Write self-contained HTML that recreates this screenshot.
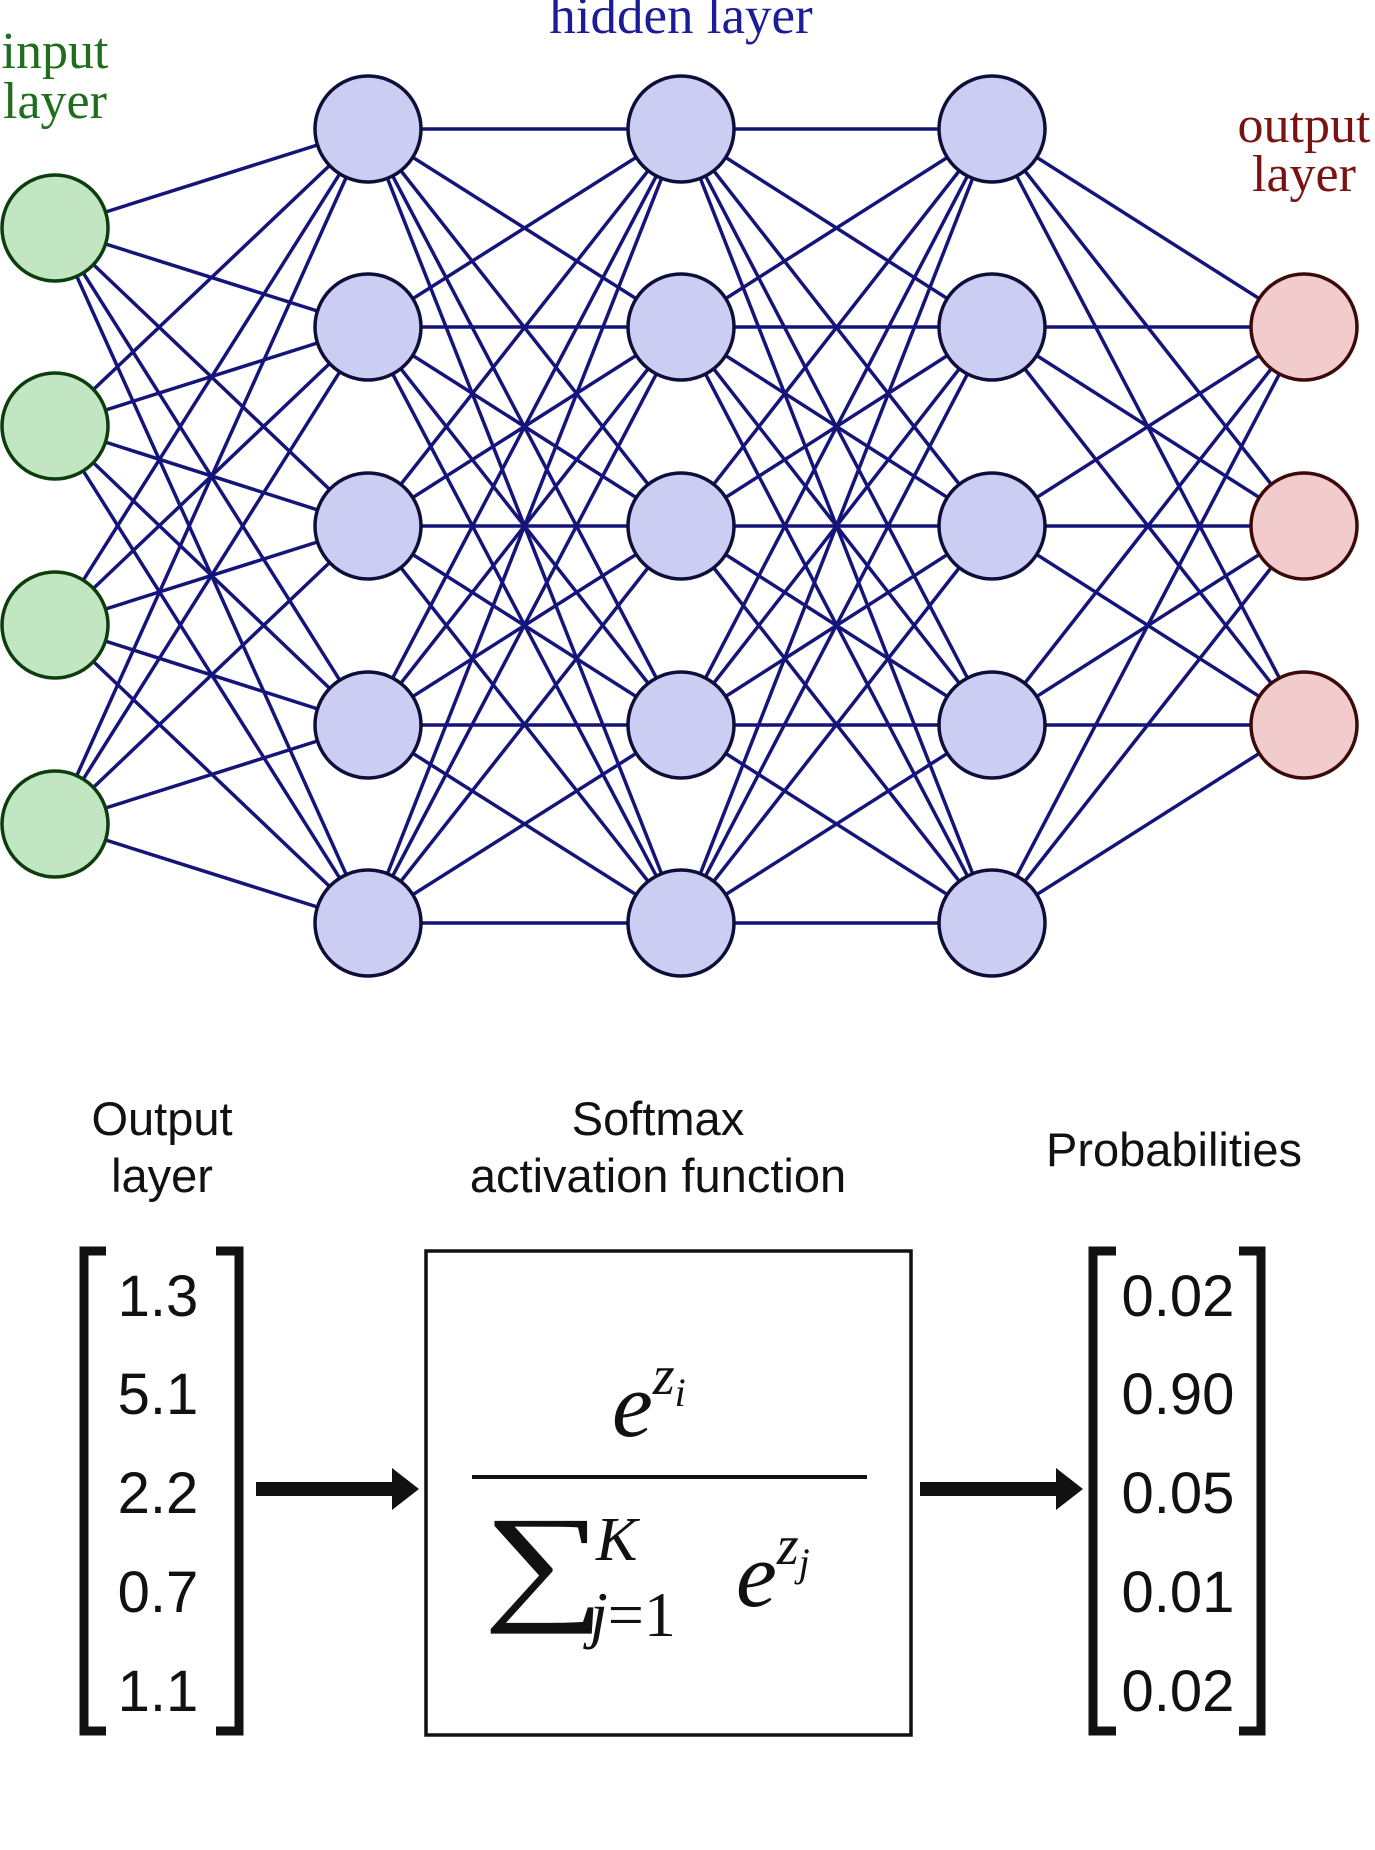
<!DOCTYPE html>
<html><head><meta charset="utf-8"><style>
html,body{margin:0;padding:0;background:#fff}
svg{display:block}
.ser{font-family:"Liberation Serif",serif}
.san{font-family:"Liberation Sans",sans-serif}
</style></head><body>
<svg width="1375" height="1850" viewBox="0 0 1375 1850">
<g id="edges"></g>
<g id="nodes"></g>
<text class="ser" x="681" y="33" font-size="53" fill="#1c1c96" text-anchor="middle">hidden layer</text>
<text class="ser" x="55" y="68" font-size="52" fill="#1e6e1e" text-anchor="middle"><tspan x="55">input</tspan><tspan x="55" y="118">layer</tspan></text>
<text class="ser" x="1304" y="142" font-size="52" fill="#7a1212" text-anchor="middle"><tspan x="1304">output</tspan><tspan x="1304" y="191">layer</tspan></text>

<text class="san" x="162" y="1135" font-size="47" fill="#111" text-anchor="middle"><tspan x="162">Output</tspan><tspan x="162" y="1192">layer</tspan></text>
<text class="san" x="658" y="1135" font-size="47" fill="#111" text-anchor="middle"><tspan x="658">Softmax</tspan><tspan x="658" y="1192">activation function</tspan></text>
<text class="san" x="1174" y="1166" font-size="47" fill="#111" text-anchor="middle">Probabilities</text>

<g fill="none" stroke="#111" stroke-width="9">
<path d="M106 1251 H84 V1731 H106"/>
<path d="M216 1251 H239 V1731 H216"/>
</g>
<g id="logits" class="san" font-size="58" fill="#111" text-anchor="middle"></g>

<rect x="426" y="1251" width="485" height="484" fill="none" stroke="#111" stroke-width="3.5"/>
<text class="ser" x="612" y="1436" font-size="92" font-style="italic" fill="#111">e<tspan dy="-42" font-size="56">z</tspan><tspan dy="12" font-size="40">i</tspan></text>
<line x1="472" y1="1477" x2="867" y2="1477" stroke="#111" stroke-width="4"/>
<text class="ser" x="0" y="0" font-size="130" fill="#111" transform="translate(483 1606) scale(1.32 1)">∑</text>
<text class="ser" x="596" y="1560" font-size="62" font-style="italic" fill="#111">K</text>
<text class="ser" x="590" y="1636" font-size="64" fill="#111"><tspan font-style="italic">j</tspan>=1</text>
<text class="ser" x="736" y="1606" font-size="92" font-style="italic" fill="#111">e<tspan dy="-42" font-size="56">z</tspan><tspan dy="12" font-size="40">j</tspan></text>

<g fill="#111">
<path d="M256 1482 H392 V1468 L419 1489 L392 1510 V1496 H256 Z"/>
<path d="M920 1482 H1056 V1468 L1083 1489 L1056 1510 V1496 H920 Z"/>
</g>

<g fill="none" stroke="#111" stroke-width="9">
<path d="M1116 1251 H1093 V1731 H1116"/>
<path d="M1239 1251 H1261 V1731 H1239"/>
</g>
<g id="probs" class="san" font-size="58" fill="#111" text-anchor="middle"></g>
</svg>
<script>
const layerX=[55,368,681,992,1304];
const layerY=[[228,426,625,824],[129,327,526,725,923],[129,327,526,725,923],[129,327,526,725,923],[327,526,725]];
const fills=["#c1e6c1","#cccdf3","#cccdf3","#cccdf3","#f2cccc"];
const strokes=["#0c3d0c","#0e0e3a","#0e0e3a","#0e0e3a","#3d0a0a"];
const logits=["1.3","5.1","2.2","0.7","1.1"];
const probs=["0.02","0.90","0.05","0.01","0.02"];
const rowY=[1316,1414,1513,1612,1711];
const NS="http://www.w3.org/2000/svg";
const E=document.getElementById('edges'),N=document.getElementById('nodes');
for(let l=0;l<4;l++)for(const y1 of layerY[l])for(const y2 of layerY[l+1]){
 const ln=document.createElementNS(NS,'line');
 ln.setAttribute('x1',layerX[l]);ln.setAttribute('y1',y1);ln.setAttribute('x2',layerX[l+1]);ln.setAttribute('y2',y2);
 ln.setAttribute('stroke','#14147a');ln.setAttribute('stroke-width','3.5');
 
 
 E.appendChild(ln);}
for(let l=0;l<5;l++)layerY[l].forEach((y,i)=>{
 const c=document.createElementNS(NS,'circle');
 c.setAttribute('cx',layerX[l]);c.setAttribute('cy',y);c.setAttribute('r',53);
 c.setAttribute('fill',fills[l]);c.setAttribute('stroke',strokes[l]);c.setAttribute('stroke-width','3.5');
 
 
 N.appendChild(c);});
function col(id,vals,x){const g=document.getElementById(id);vals.forEach((v,i)=>{
 const t=document.createElementNS(NS,'text');t.setAttribute('x',x);t.setAttribute('y',rowY[i]);t.textContent=v;
 
 
 g.appendChild(t);});}
col('logits',logits,158);col('probs',probs,1178);
</script>
</body></html>
